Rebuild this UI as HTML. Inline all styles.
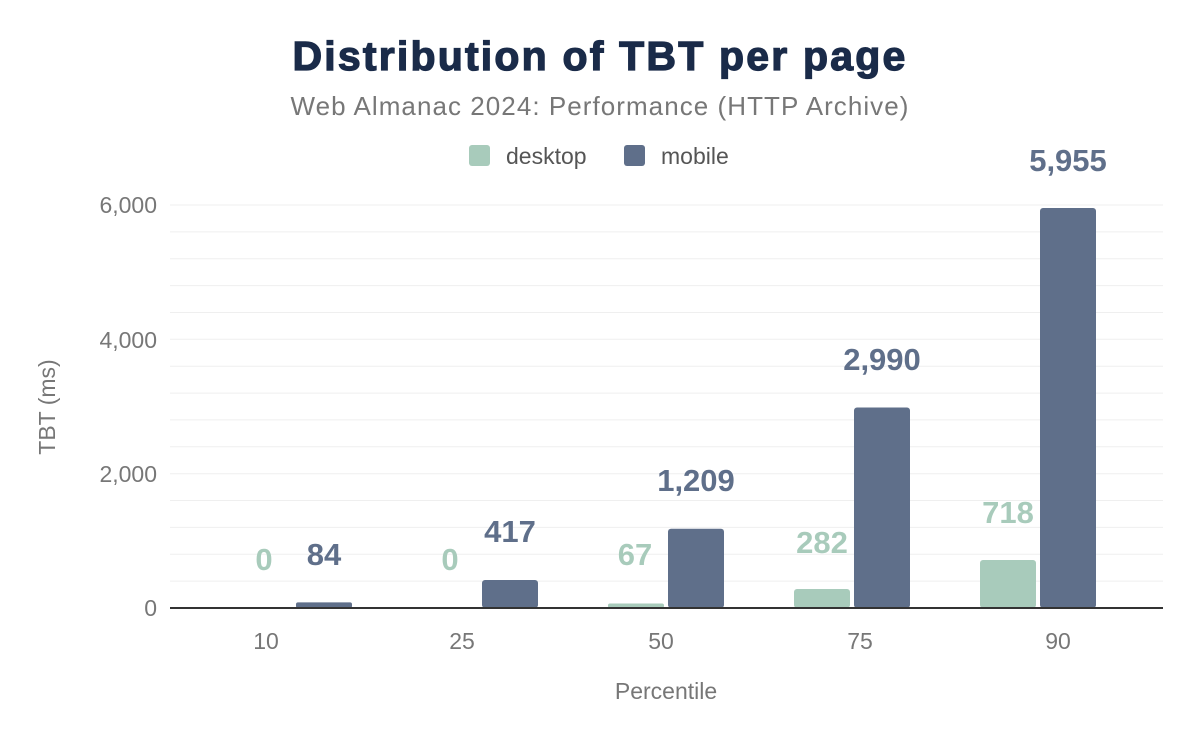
<!DOCTYPE html>
<html><head><meta charset="utf-8"><style>
body{margin:0;background:#fff;}
svg{display:block;font-family:"Liberation Sans",Arial,sans-serif;}
</style></head><body>
<svg width="1200" height="742" viewBox="0 0 1200 742">
<rect width="1200" height="742" fill="#fff"/>
<text x="600" y="70" text-anchor="middle" font-size="41" font-weight="bold" fill="#1a2b49" stroke="#1a2b49" stroke-width="1.3" style="letter-spacing:2.2px">Distribution of TBT per page</text>
<text x="600" y="115" text-anchor="middle" font-size="26" fill="#777" style="letter-spacing:1.05px">Web Almanac 2024: Performance (HTTP Archive)</text>
<rect x="469" y="145" width="21" height="21" rx="3" fill="#a8cbbb"/>
<text x="506" y="164" font-size="23" fill="#555">desktop</text>
<rect x="624" y="145" width="21" height="21" rx="3" fill="#5f6f8a"/>
<text x="661" y="164" font-size="23" fill="#555">mobile</text>
<g stroke="#efefef" stroke-width="1">
<line x1="170" x2="1163" y1="581.1" y2="581.1"/><line x1="170" x2="1163" y1="554.3" y2="554.3"/><line x1="170" x2="1163" y1="527.4" y2="527.4"/><line x1="170" x2="1163" y1="500.5" y2="500.5"/><line x1="170" x2="1163" y1="473.7" y2="473.7"/>
<line x1="170" x2="1163" y1="446.8" y2="446.8"/><line x1="170" x2="1163" y1="419.9" y2="419.9"/><line x1="170" x2="1163" y1="393.1" y2="393.1"/><line x1="170" x2="1163" y1="366.2" y2="366.2"/><line x1="170" x2="1163" y1="339.3" y2="339.3"/>
<line x1="170" x2="1163" y1="312.5" y2="312.5"/><line x1="170" x2="1163" y1="285.6" y2="285.6"/><line x1="170" x2="1163" y1="258.7" y2="258.7"/><line x1="170" x2="1163" y1="231.9" y2="231.9"/><line x1="170" x2="1163" y1="205" y2="205"/>
</g>
<g font-size="23" fill="#777" text-anchor="end">
<text x="157" y="616">0</text><text x="157" y="482">2,000</text><text x="157" y="348">4,000</text><text x="157" y="213">6,000</text>
</g>
<text transform="translate(55,407) rotate(-90)" text-anchor="middle" font-size="23" fill="#777">TBT (ms)</text>
<g fill="#a8cbbb">
<rect x="608" y="603.5" width="56" height="4.5" rx="2"/>
<rect x="794" y="589" width="56" height="19" rx="3"/>
<rect x="980" y="560" width="56" height="48" rx="3"/>
</g>
<g fill="#5f6f8a">
<rect x="296" y="602.4" width="56" height="5.6" rx="2"/>
<rect x="482" y="580" width="56" height="28" rx="3"/>
<rect x="668" y="528.8" width="56" height="79.2" rx="3"/>
<rect x="854" y="407.5" width="56" height="200.5" rx="3"/>
<rect x="1040" y="208" width="56" height="400" rx="3"/>
</g>
<line x1="170" x2="1163" y1="608" y2="608" stroke="#333" stroke-width="2"/>
<g font-size="31" font-weight="bold" text-anchor="middle" fill="#a8cbbb">
<text x="264" y="570">0</text><text x="450" y="570">0</text><text x="635" y="565">67</text><text x="822" y="553">282</text><text x="1008" y="523">718</text>
</g>
<g font-size="31" font-weight="bold" text-anchor="middle" fill="#5f6f8a">
<text x="324" y="565">84</text><text x="510" y="542">417</text><text x="696" y="491">1,209</text><text x="882" y="370">2,990</text><text x="1068" y="171">5,955</text>
</g>
<g font-size="23" fill="#777" text-anchor="middle">
<text x="266" y="649">10</text><text x="462" y="649">25</text><text x="661" y="649">50</text><text x="860" y="649">75</text><text x="1058" y="649">90</text>
</g>
<text x="666" y="699" text-anchor="middle" font-size="23" fill="#777">Percentile</text>
</svg>
</body></html>
